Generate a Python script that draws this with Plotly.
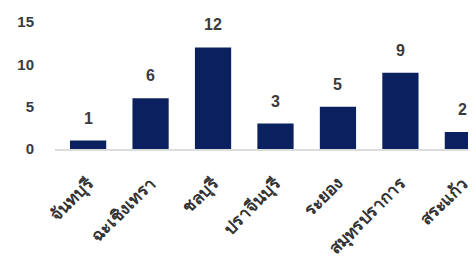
import plotly.graph_objects as go

categories = ["จันทบุรี", "ฉะเชิงเทรา", "ชลบุรี", "ปราจีนบุรี", "ระยอง", "สมุทรปราการ", "สระแก้ว"]
values = [1, 6, 12, 3, 5, 9, 2]
y_ticks = [0, 5, 10, 15]

fig = go.Figure(go.Bar(
    x=categories, y=values,
    marker=dict(color="#0b205f", line=dict(width=0)),
    cliponaxis=False,
))
for c, v in zip(categories, values):
    fig.add_annotation(x=c, y=v, text=str(v), showarrow=False, yanchor="bottom", yshift=12,
                       font=dict(family="Liberation Sans, Arial", size=16, color="#3a3a3a", weight="bold"))
fig.update_layout(
    width=468, height=255,
    margin=dict(l=47, r=0, t=14, b=114),
    paper_bgcolor="white", plot_bgcolor="white",
    bargap=0.42, showlegend=False,
    font=dict(family="Liberation Sans, Arial", color="#3a3a3a"),
)
fig.update_xaxes(range=[-0.53, 6.21], tickangle=-45, showline=True, linecolor="#dcdcdc",
                 linewidth=1.5, ticks="", automargin=False, ticklabelstandoff=16,
                 tickfont=dict(size=17, color="#333333", weight="bold"),
                 showgrid=False)
fig.update_yaxes(range=[0, 15], tickvals=y_ticks, showgrid=False, zeroline=False,
                 showline=False, ticks="", ticklabelstandoff=20, automargin=False,
                 tickfont=dict(size=15, color="#3a3a3a", weight="bold"))
fig.write_html("out.html")
